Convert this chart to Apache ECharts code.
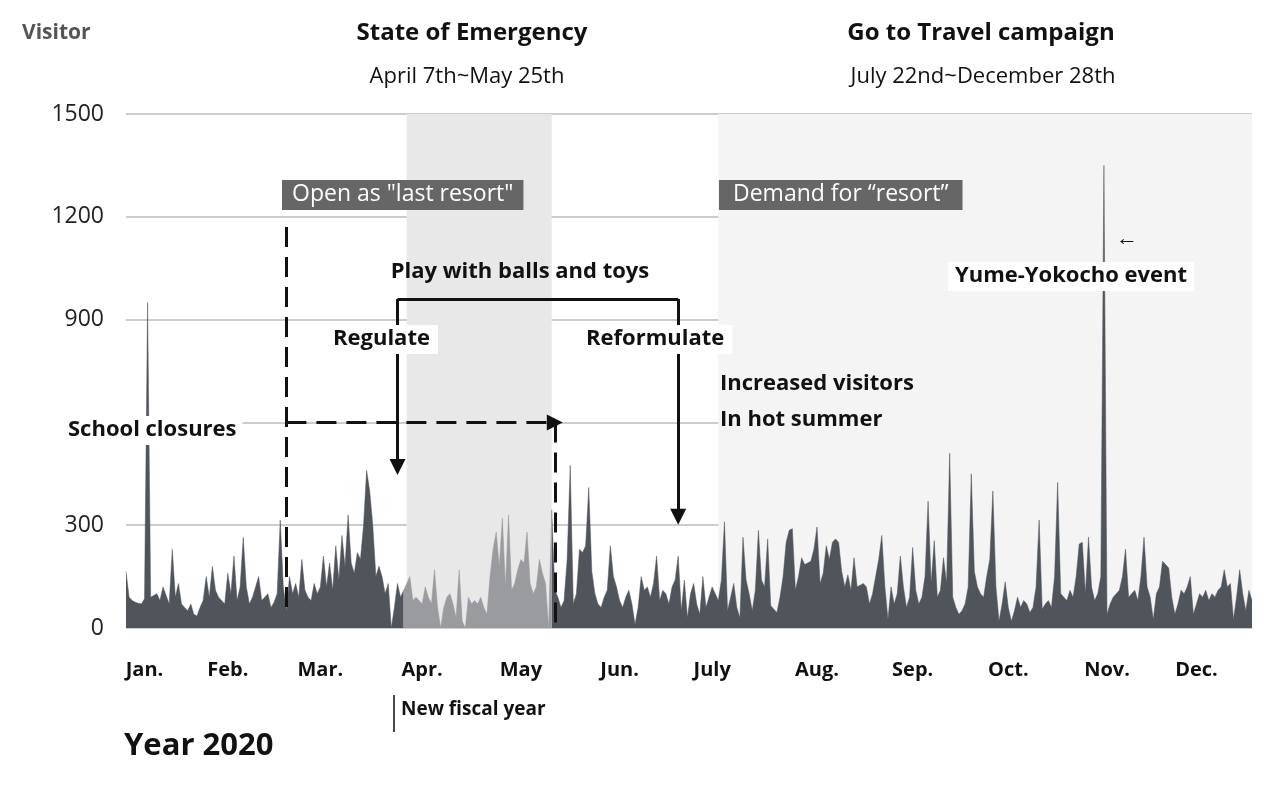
<!DOCTYPE html>
<html><head><meta charset="utf-8">
<script src="https://cdn.jsdelivr.net/npm/echarts@6/dist/echarts.min.js"></script>
<style>html,body{margin:0;background:#fff}#c{width:1286px;height:793px}</style>
</head><body><div id="c"></div>
<script>
const visitors = [
165,90,80,75,72,70,85,950,90,95,100,80,120,95,70,230,90,130,70,60,50,70,40,35,60,80,150,90,180,110,
90,80,70,160,100,210,80,120,265,120,70,90,120,150,80,90,100,60,75,100,315,120,50,150,100,130,90,200,110,90,
80,130,100,120,210,120,190,110,240,140,270,180,330,190,160,220,200,300,460,400,300,150,180,150,100,130,0,60,130,90,
110,130,150,80,90,80,70,120,90,70,170,60,0,60,90,100,70,30,170,20,0,90,70,80,70,90,60,40,150,230,
280,180,320,120,330,110,130,170,200,190,280,130,100,120,200,160,130,0,345,110,90,60,80,200,475,70,100,230,220,240,
410,165,100,70,60,90,110,240,150,120,80,60,90,110,70,10,60,150,110,120,90,130,210,80,110,100,70,120,140,210,
50,140,30,100,130,70,40,150,60,90,120,100,80,140,310,50,90,130,60,30,265,140,100,50,110,285,140,120,260,65,
55,45,90,150,250,285,290,110,150,205,185,190,195,230,295,130,160,240,200,250,260,250,165,120,155,110,205,120,125,130,
120,70,100,150,200,270,120,25,120,70,100,210,120,60,90,235,110,70,90,150,370,130,255,90,110,205,130,510,90,60,
40,50,70,120,450,165,120,100,90,150,200,
400,120,20,70,135,60,20,50,90,60,80,70,45,60,120,315,55,70,80,60,150,425,100,90,80,110,90,150,245,250,
100,265,120,80,100,150,1350,40,70,90,100,110,150,230,90,100,110,80,150,265,120,90,25,100,120,195,185,175,90,40,
70,110,100,120,150,40,70,100,90,110,80,100,90,110,120,170,120,130,25,90,170,100,50,110,80
];
const monthNames = ['Jan.','Feb.','Mar.','Apr.','May','Jun.','July','Aug.','Sep.','Oct.','Nov.','Dec.'];
const monthLabelDays = [6,33,63,96,128,160,190,224,255,286,318,347];
const yTicks = [0,300,600,900,1200,1500];
const emergencyDays = [91,138];
const travelDays = [192,365];

const days = visitors.map((_, i) => i);
const dark = visitors.map((v, i) => (i > emergencyDays[0] - 1 && i < emergencyDays[1]) ? null : v);
const light = visitors.map((v, i) => (i >= emergencyDays[0] - 1 && i <= emergencyDays[1]) ? v : null);

const F = '"Open Sans", "Noto Sans", sans-serif';
const chart = echarts.init(document.getElementById('c'));
const txt = (x, y, text, o = {}) => ({type:'text', x, y, z:100, style:Object.assign({text, fill:'#111', font:`bold 24px ${F}`}, o)});
const dashed = {type:[20,10], width:3, color:'#111'};
const solid = {type:'solid', width:3, color:'#111'};
chart.setOption({
  animation:false,
  grid:{left:126, right:34, top:114, bottom:165},
  xAxis:{type:'category', data:days, boundaryGap:false,
    axisLine:{show:false}, axisTick:{show:false}, splitLine:{show:false},
    axisLabel:{interval:(i)=>monthLabelDays.includes(i), formatter:(v)=>monthNames[monthLabelDays.indexOf(+v)],
      color:'#111', fontFamily:F, fontWeight:'bold', fontSize:20, margin:32}},
  yAxis:{type:'value', min:0, max:1500, interval:300,
    axisLine:{show:false}, axisTick:{show:false},
    splitLine:{lineStyle:{color:'#bbb', width:1.5}},
    axisLabel:{color:'#222', fontFamily:F, fontSize:23, margin:22, formatter:(v)=>v===600?'':v}},
  series:[
    {type:'line', data:dark, symbol:'none', connectNulls:false, lineStyle:{width:0.5, color:'#50555c'},
      areaStyle:{color:'#50555c', opacity:1}, z:3,
      markArea:{silent:true, itemStyle:{color:'#e8e8e8'}, data:[
        [{xAxis:emergencyDays[0]},{xAxis:emergencyDays[1]}],
        [{xAxis:travelDays[0], itemStyle:{color:'#f4f4f4'}},{xAxis:travelDays[1]}]
      ]},
      markLine:{silent:true, symbol:['none','none'], label:{show:false}, z:10, data:[
        [{coord:[52,1170], lineStyle:dashed},{coord:[52,50]}],
        [{coord:[52,600], lineStyle:dashed},{coord:[139,600], symbol:'triangle', symbolSize:[16,16], symbolRotate:-90}],
        [{coord:[139,600], lineStyle:dashed},{coord:[139,0]}],
        [{coord:[87.5,880], lineStyle:solid},{coord:[87.5,960]}],
        [{coord:[87.5,960], lineStyle:solid},{coord:[178.5,960]}],
        [{coord:[178.5,960], lineStyle:solid},{coord:[178.5,325], symbol:'triangle', symbolSize:[16,16], symbolRotate:180}],
        [{coord:[87.5,880], lineStyle:solid},{coord:[87.5,470], symbol:'triangle', symbolSize:[16,16], symbolRotate:180}]
      ]}
    },
    {type:'line', data:light, symbol:'none', lineStyle:{width:0.5, color:'#9a9b9e'},
      areaStyle:{color:'#9a9b9e', opacity:1}, z:4}
  ],
  graphic:[
    txt(22, 23, 'Visitor', {fill:'#555', font:`bold 21px ${F}`}),
    txt(472, 21, 'State of Emergency', {textAlign:'center', font:`bold 24px ${F}`}),
    txt(467, 66, 'April 7th~May 25th', {textAlign:'center', font:`22px ${F}`}),
    txt(981, 21, 'Go to Travel campaign', {textAlign:'center', font:`bold 24px ${F}`}),
    txt(983, 66, 'July 22nd~December 28th', {textAlign:'center', font:`22px ${F}`}),
    txt(282, 180, 'Open as "last resort"', {fill:'#fff', backgroundColor:'#666', padding:[3,10,4,10], font:`23px ${F}`}),
    txt(719, 180, 'Demand for “resort”', {fill:'#fff', backgroundColor:'#666', padding:[3,14,4,14], font:`23px ${F}`}),
    txt(520, 261, 'Play with balls and toys', {textAlign:'center', font:`bold 22px ${F}`}),
    txt(325, 325, 'Regulate', {backgroundColor:'#fff', padding:[3,8,4,8], font:`bold 22px ${F}`}),
    txt(578, 325, 'Reformulate', {backgroundColor:'#fff', padding:[3,8,4,8], font:`bold 22px ${F}`}),
    txt(720, 373, 'Increased visitors', {font:`bold 22px ${F}`}),
    txt(720, 409, 'In hot summer', {font:`bold 22px ${F}`}),
    txt(62, 416, 'School closures', {backgroundColor:'#fff', padding:[3,6,4,6], font:`bold 22px ${F}`}),
    txt(1116, 228, '←', {font:`22px ${F}`}),
    txt(948, 262, 'Yume-Yokocho event', {backgroundColor:'#fff', padding:[3,7,4,7], font:`bold 22px ${F}`}),
    {type:'line', z:100, shape:{x1:394,y1:695,x2:394,y2:732}, style:{stroke:'#111', lineWidth:1.5}},
    txt(401, 700, 'New fiscal year', {font:`bold 19px ${F}`}),
    txt(124, 731, 'Year 2020', {font:`bold 31px ${F}`})
  ]
});
</script></body></html>
